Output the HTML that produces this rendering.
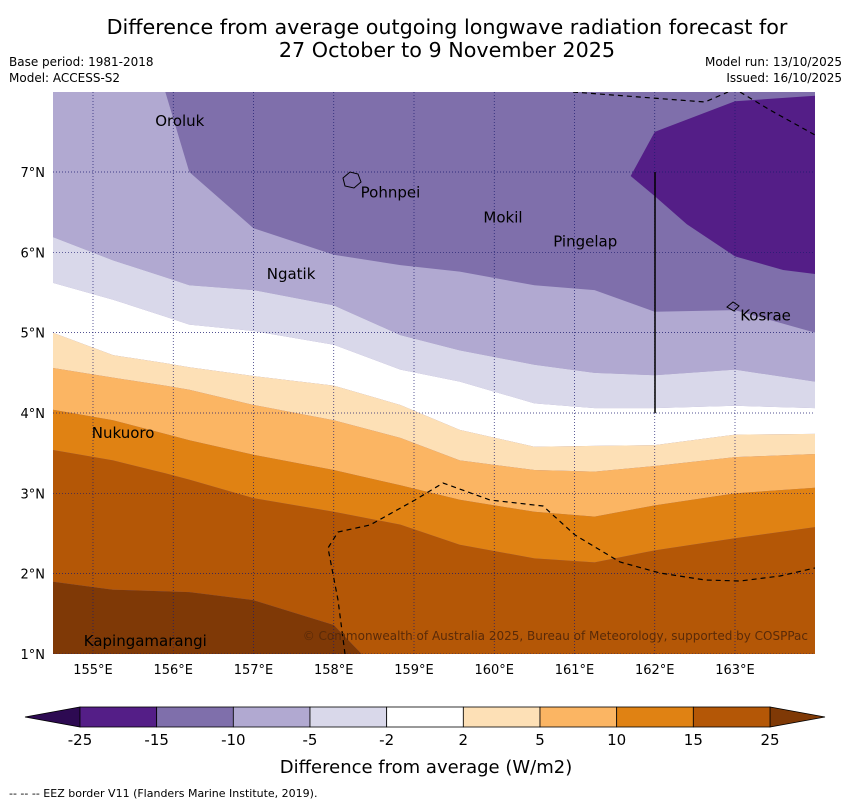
<!DOCTYPE html>
<html><head><meta charset="utf-8"><style>
body{margin:0;background:#fff;font-family:"Liberation Sans","DejaVu Sans",sans-serif}
svg text{font-family:"DejaVu Sans","Liberation Sans",sans-serif}
</style></head><body>
<svg id="chart" width="850" height="804" xmlns="http://www.w3.org/2000/svg">
<text x="447" y="34" font-size="20.7" text-anchor="middle">Difference from average outgoing longwave radiation forecast for</text>
<text x="447" y="57" font-size="20.7" text-anchor="middle">27 October to 9 November 2025</text>
<text x="9" y="66" font-size="12">Base period: 1981-2018</text>
<text x="9" y="82" font-size="12">Model: ACCESS-S2</text>
<text x="842" y="66" font-size="12" text-anchor="end">Model run: 13/10/2025</text>
<text x="842" y="82" font-size="12" text-anchor="end">Issued: 16/10/2025</text>
<defs><clipPath id="mapclip"><rect x="53" y="92" width="762" height="562"/></clipPath></defs>
<g id="map" clip-path="url(#mapclip)"></g>
<g id="axes"></g>
<g id="cbar"></g>
<text x="426" y="773" font-size="18" text-anchor="middle">Difference from average (W/m2)</text>
<text x="9" y="797" font-size="11">--  --  -- EEZ border V11 (Flanders Marine Institute, 2019).</text>
</svg>
<script>
const lons = [154.5,155.25,155.9,156.2,157.0,158.0,158.83,159.57,160.5,161.25,162.0,163.0,164.0];
const b25 = [1.90,1.80,1.78,1.77,1.67,1.36,0.5,0.5,0.5,0.5,0.5,0.5,0.5];
const b15 = [3.54,3.41,3.25,3.17,2.94,2.77,2.61,2.36,2.19,2.14,2.29,2.44,2.58];
const b10 = [4.04,3.91,3.74,3.66,3.48,3.29,3.10,2.92,2.77,2.71,2.85,3.00,3.07];
const b5 = [4.56,4.44,4.34,4.29,4.10,3.91,3.69,3.41,3.29,3.27,3.34,3.45,3.49];
const b2 = [5.00,4.72,4.62,4.57,4.46,4.34,4.10,3.79,3.58,3.59,3.60,3.73,3.74];
const bm2 = [5.62,5.41,5.20,5.10,5.02,4.85,4.54,4.39,4.12,4.06,4.06,4.09,4.06];
const bm5 = [6.19,5.90,5.69,5.59,5.53,5.34,4.97,4.78,4.60,4.50,4.47,4.54,4.39];
const bm10 = [8.5,8.5,8.0,7.0,6.30,5.97,5.84,5.76,5.59,5.53,5.26,5.28,5.0];
const blobLon = [161.7,162.0,163.0,164.0,164.0,163.6,163.0,162.4,162.0];
const blobLat = [6.95,7.5,7.88,7.95,5.73,5.78,5.95,6.35,6.7];
const levels = ["-25","-15","-10","-5","-2","2","5","10","15","25"];
const colors = ["#541e87","#7f6fab","#b1a9d1","#d9d8ea","#ffffff","#fde0b6","#fbb563","#e08213","#b45706"];
const bandColors = ["#7f6fab","#b1a9d1","#d9d8ea","#ffffff","#fde0b6","#fbb563","#e08213","#b45706","#7f3906"];
const lonTicks = [155,156,157,158,159,160,161,162,163];
const latTicks = [1,2,3,4,5,6,7];
const islands = [["Oroluk",155.75,7.57],["Pohnpei",158.31,6.68],["Mokil",159.84,6.37],["Pingelap",160.71,6.07],["Ngatik",157.14,5.67],["Kosrae",163.04,5.15],["Nukuoro",154.96,3.69],["Kapingamarangi",154.86,1.10]];
const ns="http://www.w3.org/2000/svg";
const X = lon => 93 + (lon-155)*80.25;
const Y = lat => 172 - (lat-7)*80.33;
function mk(tag, attrs, parent){const e=document.createElementNS(ns,tag);for(const k in attrs)e.setAttribute(k,attrs[k]);parent.appendChild(e);return e;}
const map=document.getElementById('map');
const bounds=[null,bm10,bm5,bm2,b2,b5,b10,b15,b25,null];
const bg=mk('rect',{x:53,y:92,width:762,height:562,fill:bandColors[0]},map);


bandColors.forEach((c,i)=>{
  const hi=bounds[i], lo=bounds[i+1];
  let pts=[];
  lons.forEach((l,j)=>pts.push(X(l)+','+(hi?Y(hi[j]):80)));
  for(let j=lons.length-1;j>=0;j--)pts.push(X(lons[j])+','+(lo?Y(lo[j]):670));
  const p=mk('polygon',{points:pts.join(' '),fill:c},map);
  
  
});
const blob=mk('polygon',{points:blobLon.map((l,i)=>X(l)+','+Y(blobLat[i])).join(' '),fill:colors[0]},map);


lonTicks.forEach(l=>{const g=mk('line',{x1:X(l),x2:X(l),y1:92,y2:654,stroke:'#1a1a6e','stroke-width':0.7,'stroke-dasharray':'1,2'},map);

});
latTicks.forEach(l=>{const g=mk('line',{x1:53,x2:815,y1:Y(l),y2:Y(l),stroke:'#1a1a6e','stroke-width':0.7,'stroke-dasharray':'1,2'},map);

});
const e1=mk('path',{d:'M573,92 L705,102 L728,92 M740,92 L770,110 L815,135',fill:'none',stroke:'#000','stroke-dasharray':'5,4','stroke-width':1.2},map);


const e2=mk('path',{d:'M345,654 L338,600 L328,548 L338,532 L370,525 L415,500 L443,483 L490,500 L543,506 L575,535 L620,562 L660,573 L705,580 L740,581 L780,576 L815,568',fill:'none',stroke:'#000','stroke-dasharray':'5,4','stroke-width':1.2},map);


const vl=mk('line',{x1:655,x2:655,y1:172,y2:413,stroke:'#000','stroke-width':1.5},map);


const pn=mk('path',{d:'M343,178 L350,172 L358,174 L361,182 L354,188 L345,186 Z',fill:'none',stroke:'#000'},map);


const ks=mk('path',{d:'M727,307 L733,302 L739,306 L734,311 Z',fill:'none',stroke:'#000'},map);


islands.forEach(s=>{const t=mk('text',{x:X(s[1])+2,y:Y(s[2]),'font-size':15},map);t.textContent=s[0];

});
const cp=mk('text',{x:808,y:640,'font-size':12,'text-anchor':'end',fill:'#5a2a08'},map);
cp.textContent='© Commonwealth of Australia 2025, Bureau of Meteorology, supported by COSPPac';


const ax=document.getElementById('axes');
lonTicks.forEach(l=>{const t=mk('text',{x:X(l),y:674,'font-size':13,'text-anchor':'middle'},ax);t.textContent=l+'°E';

});
latTicks.forEach(l=>{const t=mk('text',{x:45,y:Y(l)+5,'font-size':13,'text-anchor':'end'},ax);t.textContent=l+'°N';

});
const cb=document.getElementById('cbar');
const x0=80,x1=770,w=(x1-x0)/colors.length;
const lt=mk('polygon',{points:`${x0},707 ${x0},727 25,717`,fill:'#2d0a52',stroke:'#000','stroke-width':0.8},cb);


const rt=mk('polygon',{points:`${x1},707 ${x1},727 825,717`,fill:'#7f3906',stroke:'#000','stroke-width':0.8},cb);


colors.forEach((c,i)=>{const r=mk('rect',{x:x0+i*w,y:707,width:w,height:20,fill:c,stroke:'#000','stroke-width':0.8},cb);

});
levels.forEach((v,i)=>{const t=mk('text',{x:x0+i*w,y:745,'font-size':15,'text-anchor':'middle'},cb);t.textContent=v;

});
</script>
</body></html>
